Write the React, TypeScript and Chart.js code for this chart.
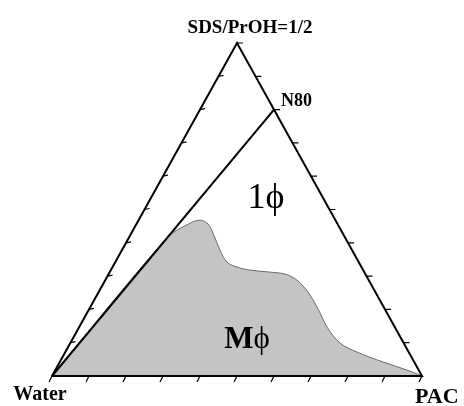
import { useEffect, useRef } from "react";
import { Chart, registerables } from "chart.js";

Chart.register(...registerables);

// Ternary compositions in % : SDS/PrOH (top vertex), PAC (right vertex); water = remainder
const vertexLabels = ["Water", "PAC", "SDS/PrOH=1/2"];
const vertexSds = [0, 0, 100];
const vertexPac = [0, 100, 0];

const n80Label = "N80";
const n80Sds = 80;
const n80Pac = 20;

// Boundary of the multiphase (Mφ) region
const boundarySds = [0, 41.6, 45.6, 46.8, 45.6, 42.3, 37.8, 34.2, 32.7, 31.8, 31.2, 30.6, 28.8, 25.5, 20.7, 14.7, 9.9, 7.2, 4.2, 1.8, 0];
const boundaryPac = [0, 10.4, 14.0, 16.6, 19.4, 22.6, 26.5, 30.2, 33.65, 37.6, 43.3, 47.7, 51.8, 56.2, 61.3, 67.0, 72.9, 78.8, 87.4, 95.0, 100];

const tickSteps = [0, 10, 20, 30, 40, 50, 60, 70, 80, 90, 100];

const phaseLabels = ["1ϕ", "Mϕ"];
const phaseSds = [53.7, 11.4];
const phasePac = [31, 47];

// layout (pixels)
const W = 464;
const H = 406;
const PAD_L = 52;
const PAD_R = 42;
const PAD_T = 43;
const PAD_B = 30;
const PLOT_W = W - PAD_L - PAD_R;
const PLOT_H = H - PAD_T - PAD_B;

const toXY = (sds: number, pac: number) => ({ x: (pac + sds / 2) / 100, y: sds / 100 });

const SERIF = "'Liberation Serif', 'Times New Roman', 'DejaVu Serif', serif";

export default function App() {
  const ref = useRef<HTMLCanvasElement | null>(null);

  useEffect(() => {
    if (!ref.current) return;
    const water = toXY(vertexSds[0], vertexPac[0]);
    const pac = toXY(vertexSds[1], vertexPac[1]);
    const apex = toXY(vertexSds[2], vertexPac[2]);
    const n80 = toXY(n80Sds, n80Pac);

    const boundary = boundarySds.map((s, i) => toXY(s, boundaryPac[i]));

    const px = 1 / PLOT_W;
    const py = 1 / PLOT_H;
    const ticks: any[] = [];
    const gap = { x: null, y: null };
    tickSteps.forEach((t) => {
      // base ticks (SDS = 0), slanting down-left
      const b = toXY(0, t);
      ticks.push(b, { x: b.x - 3 * px, y: b.y - 6 * py }, gap);
      // left edge ticks (PAC = 0), pointing right
      if (t > 0 && t < 100) {
        const l = toXY(t, 0);
        ticks.push(l, { x: l.x + 5 * px, y: l.y + 1 * py }, gap);
      }
      // right edge ticks (water = 0), pointing right
      if (t > 0) {
        const r = toXY(t, 100 - t);
        ticks.push(r, { x: r.x + 6 * px, y: r.y }, gap);
      }
    });

    const labelPlugin = {
      id: "labels",
      afterDatasetsDraw(chart: any) {
        const { ctx } = chart;
        const xs = chart.scales.x;
        const ys = chart.scales.y;
        const P = (p: { x: number; y: number }) => [xs.getPixelForValue(p.x), ys.getPixelForValue(p.y)];
        ctx.save();
        ctx.fillStyle = "#000";
        ctx.textBaseline = "alphabetic";

        const [wx, wy] = P(water);
        ctx.font = `bold 20px ${SERIF}`;
        ctx.textAlign = "center";
        ctx.fillText(vertexLabels[0], wx - 12, wy + 24);

        const [cx, cy] = P(pac);
        ctx.font = `bold 22px ${SERIF}`;
        ctx.textAlign = "left";
        ctx.fillText(vertexLabels[1], cx - 7, cy + 27);

        const [ax, ay] = P(apex);
        ctx.font = `bold 19px ${SERIF}`;
        ctx.textAlign = "center";
        ctx.fillText(vertexLabels[2], ax + 13, ay - 10);

        const [nx, ny] = P(n80);
        ctx.font = `bold 18px ${SERIF}`;
        ctx.textAlign = "left";
        ctx.fillText(n80Label, nx + 7, ny - 4);

        const [p1x, p1y] = P(toXY(phaseSds[0], phasePac[0]));
        ctx.font = `36px ${SERIF}`;
        ctx.textAlign = "center";
        ctx.fillText(phaseLabels[0], p1x, p1y + 11);

        const [p2x, p2y] = P(toXY(phaseSds[1], phasePac[1]));
        const m = phaseLabels[1].charAt(0);
        const phi = phaseLabels[1].slice(1);
        ctx.font = `bold 31px ${SERIF}`;
        const mw = ctx.measureText(m).width;
        ctx.font = `31px ${SERIF}`;
        const fw = ctx.measureText(phi).width;
        const left = p2x - (mw + fw) / 2;
        ctx.textAlign = "left";
        ctx.font = `bold 31px ${SERIF}`;
        ctx.fillText(m, left, p2y + 10);
        ctx.font = `31px ${SERIF}`;
        ctx.fillText(phi, left + mw, p2y + 10);
        ctx.restore();
      },
    };

    const chart = new Chart(ref.current, {
      type: "scatter",
      data: {
        datasets: [
          {
            label: "triangle",
            data: [water, pac, apex, water],
            showLine: true,
            borderColor: "#000",
            borderWidth: 2,
            borderJoinStyle: "miter",
            pointRadius: 0,
            clip: false,
            order: 1,
          } as any,
          {
            label: "dilution",
            data: [water, n80],
            showLine: true,
            borderColor: "#000",
            borderWidth: 2,
            pointRadius: 0,
            clip: false,
            order: 2,
          },
          {
            label: "ticks",
            data: ticks,
            showLine: true,
            spanGaps: false,
            borderColor: "#000",
            borderWidth: 1.2,
            pointRadius: 0,
            clip: false,
            order: 3,
          },
          {
            label: "Mphase",
            data: boundary,
            showLine: true,
            borderColor: "#6a6a6a",
            borderWidth: 1,
            backgroundColor: "#c4c4c4",
            fill: "origin",
            tension: 0.35,
            pointRadius: 0,
            clip: false,
            order: 10,
          },
        ],
      },
      options: {
        animation: false,
        responsive: false,
        events: [],
        layout: { padding: { left: PAD_L, right: PAD_R, top: PAD_T, bottom: PAD_B } },
        scales: {
          x: { type: "linear", min: 0, max: 1, display: false },
          y: { type: "linear", min: 0, max: 1, display: false },
        },
        plugins: { legend: { display: false }, tooltip: { enabled: false } },
      },
      plugins: [labelPlugin],
    } as any);
    return () => chart.destroy();
  }, []);

  return (
    <div style={{ position: "fixed", left: 0, top: 0, width: W, height: H, background: "#fff" }}>
      <canvas ref={ref} width={W} height={H} style={{ display: "block", width: W, height: H }} />
    </div>
  );
}
